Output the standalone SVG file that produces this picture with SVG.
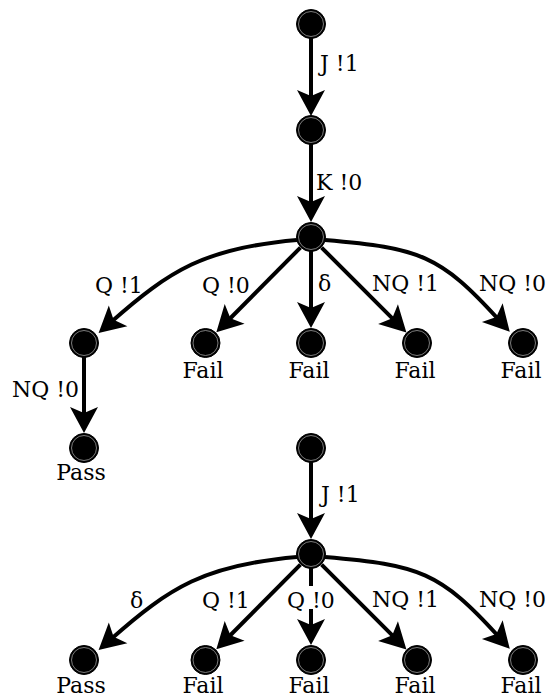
<svg xmlns="http://www.w3.org/2000/svg" width="547" height="699" viewBox="0 0 547 699">
<style>
.e{fill:none;stroke:#000;stroke-width:4;marker-end:url(#arr)}
.n{fill:#000;stroke:#000;stroke-width:1}
.r{fill:none;stroke:#9a9a9a;stroke-width:0.8}
.c{text-anchor:middle}
</style>
<defs>
<marker id="arr" markerUnits="userSpaceOnUse" markerWidth="28" markerHeight="28" refX="10" refY="14" orient="auto" overflow="visible">
<path d="M0,0 L26,14 L0,28 L6,14 Z" fill="#000"/>
</marker>
</defs>
<rect width="547" height="699" fill="#fff"/>
<g id="connectors">
<path class="e" d="M311,38 L311,100"/>
<path class="e" d="M311,144 L311,206"/>
<path class="e" d="M297,240 C205,248 170,270 110.6,322.5"/>
<path class="e" d="M300.4,247.6 L227.6,321"/>
<path class="e" d="M311,251 L311,312"/>
<path class="e" d="M321.6,247.6 L395.1,321.1"/>
<path class="e" d="M325,240 C420,248 440,255 499,320"/>
<path class="e" d="M84,357 L84,417"/>
<path class="e" d="M311,462 L311,523"/>
<path class="e" d="M297,557 C205,565 170,587 110.6,639.5"/>
<path class="e" d="M300.4,564.6 L227.6,638"/>
<path class="e" d="M311,568 L311,629"/>
<path class="e" d="M321.6,564.6 L395.1,638.1"/>
<path class="e" d="M325,557 C420,565 440,572 499,637"/>
</g>
<g font-family="DejaVu Serif, serif" font-size="22" fill="#000">
<g id="edge-labels">
<text x="320" y="71">J !1</text>
<text x="316" y="190">K !0</text>
<text x="95" y="293">Q !1</text>
<text x="202" y="293">Q !0</text>
<text x="318" y="291">δ</text>
<text x="372" y="291">NQ !1</text>
<text x="479" y="291">NQ !0</text>
<text x="12" y="397">NQ !0</text>
<text x="321" y="502">J !1</text>
<text x="130" y="608">δ</text>
<text x="202" y="608">Q !1</text>
<rect x="286" y="586" width="48" height="23" fill="#fff"/>
<text x="287" y="608">Q !0</text>
<text x="372" y="607">NQ !1</text>
<text x="479" y="607">NQ !0</text>
</g>
<g id="n1"><circle class="n" cx="311" cy="24" r="14.5"/><circle class="r" cx="311" cy="24" r="12.5"/></g>
<g id="n2"><circle class="n" cx="311" cy="130" r="14.5"/><circle class="r" cx="311" cy="130" r="12.5"/></g>
<g id="n3"><circle class="n" cx="311" cy="237" r="14.5"/><circle class="r" cx="311" cy="237" r="12.5"/></g>
<g id="n4"><circle class="n" cx="84" cy="343" r="14.5"/><circle class="r" cx="84" cy="343" r="12.5"/></g>
<g id="n5"><circle class="n" cx="205.5" cy="343" r="14.5"/><circle class="r" cx="205.5" cy="343" r="12.5"/><text class="c" x="203" y="378">Fail</text></g>
<g id="n6"><circle class="n" cx="311" cy="343" r="14.5"/><circle class="r" cx="311" cy="343" r="12.5"/><text class="c" x="309" y="378">Fail</text></g>
<g id="n7"><circle class="n" cx="417" cy="343" r="14.5"/><circle class="r" cx="417" cy="343" r="12.5"/><text class="c" x="415" y="378">Fail</text></g>
<g id="n8"><circle class="n" cx="523" cy="343" r="14.5"/><circle class="r" cx="523" cy="343" r="12.5"/><text class="c" x="521" y="378">Fail</text></g>
<g id="n9"><circle class="n" cx="84" cy="448" r="14.5"/><circle class="r" cx="84" cy="448" r="12.5"/><text class="c" x="81" y="480">Pass</text></g>
<g id="m1"><circle class="n" cx="311" cy="448" r="14.5"/><circle class="r" cx="311" cy="448" r="12.5"/></g>
<g id="m2"><circle class="n" cx="311" cy="554" r="14.5"/><circle class="r" cx="311" cy="554" r="12.5"/></g>
<g id="m3"><circle class="n" cx="84" cy="660" r="14.5"/><circle class="r" cx="84" cy="660" r="12.5"/><text class="c" x="81" y="693">Pass</text></g>
<g id="m4"><circle class="n" cx="205.5" cy="660" r="14.5"/><circle class="r" cx="205.5" cy="660" r="12.5"/><text class="c" x="203" y="693">Fail</text></g>
<g id="m5"><circle class="n" cx="311" cy="660" r="14.5"/><circle class="r" cx="311" cy="660" r="12.5"/><text class="c" x="309" y="693">Fail</text></g>
<g id="m6"><circle class="n" cx="417" cy="660" r="14.5"/><circle class="r" cx="417" cy="660" r="12.5"/><text class="c" x="415" y="693">Fail</text></g>
<g id="m7"><circle class="n" cx="523" cy="660" r="14.5"/><circle class="r" cx="523" cy="660" r="12.5"/><text class="c" x="521" y="693">Fail</text></g>
</g>
</svg>
